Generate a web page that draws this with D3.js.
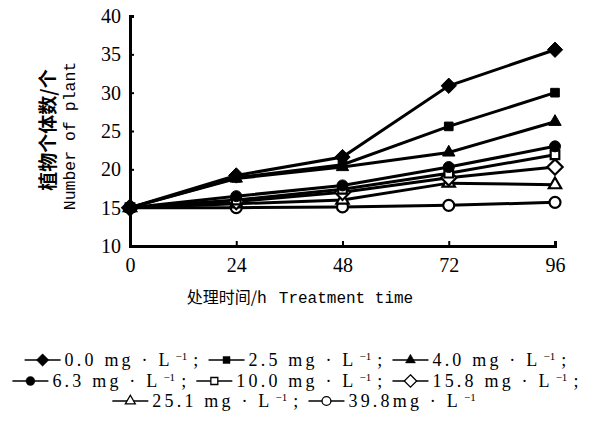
<!DOCTYPE html>
<html>
<head>
<meta charset="utf-8">
<script src="https://cdn.jsdelivr.net/npm/d3@7"></script>
<style>
  body { margin: 0; background: #fff; }
  svg { display: block; }
</style>
</head>
<body>
<script>
// time points (h)
var hours = [0, 24, 48, 72, 96];
var yTicks = [10, 15, 20, 25, 30, 35, 40];

// concentrations, mg/L
var concLabels = ["0.0", "2.5", "4.0", "6.3", "10.0", "15.8", "25.1", "39.8"];
var markers = ["diamond", "square", "triangle", "circle", "square", "diamond", "triangle", "circle"];
var filled = [true, true, true, true, false, false, false, false];

// number of plants
var c00 = [15, 19.2, 21.6, 30.9, 35.6];
var c25 = [15, 18.9, 20.6, 25.6, 30.0];
var c40 = [15, 18.8, 20.3, 22.2, 26.2];
var c63 = [15, 16.5, 17.9, 20.3, 23.0];
var c100 = [15, 16.0, 17.4, 19.5, 21.9];
var c158 = [15, 15.8, 17.0, 18.9, 20.3];
var c251 = [15, 15.5, 16.0, 18.2, 18.0];
var c398 = [15, 15.0, 15.1, 15.3, 15.7];
var series = [c00, c25, c40, c63, c100, c158, c251, c398];

var width = 593, height = 437;
var svg = d3.select("body").append("svg")
    .attr("width", width).attr("height", height);

var x = d3.scaleLinear().domain([0, 96]).range([130, 555]);
var y = d3.scaleLinear().domain([10, 40]).range([246, 16]);

function symbolFor(name) {
  if (name === "diamond") return d3.symbolDiamond2;
  if (name === "square") return d3.symbolSquare2;
  if (name === "triangle") return d3.symbolTriangle2;
  return d3.symbolCircle;
}
function symbolSize(name, scale) {
  var s = { diamond: 150, square: 95, triangle: 110, circle: 95 }[name];
  return s * scale;
}

// axes
var xAxis = svg.append("g")
    .attr("transform", "translate(0," + y(10) + ")")
    .call(d3.axisBottom(x).tickValues(hours).tickSize(-5).tickPadding(12));
var yAxis = svg.append("g")
    .attr("transform", "translate(" + x(0) + ",0)")
    .call(d3.axisLeft(y).tickValues(yTicks).tickSize(-4).tickPadding(9));

[xAxis, yAxis].forEach(function(a) {
  a.select(".domain").attr("stroke", "#000").attr("stroke-width", 3);
  a.selectAll(".tick line").attr("stroke", "#000").attr("stroke-width", 2);
  a.selectAll(".tick text")
    .attr("fill", "#000")
    .style("font-family", "'Liberation Serif', serif")
    .style("font-size", "20px");
});
xAxis.selectAll(".tick").filter(function(d) { return d === 0; }).select("line").remove();

// axis titles
svg.append("text")
    .attr("x", 300).attr("y", 303)
    .attr("text-anchor", "middle")
    .style("font-size", "16px")
    .html("<tspan style=\"font-family:'Noto Sans CJK SC'\">处理时间/h</tspan><tspan style=\"font-family:'Liberation Mono', monospace\" dx=\"12\">Treatment time</tspan>");

svg.append("text")
    .attr("transform", "translate(55,130) rotate(-90)")
    .attr("text-anchor", "middle")
    .style("font-family", "'Noto Sans CJK SC'")
    .style("font-size", "19px")
    .style("font-weight", "bold")
    .text("植物个体数/个");
svg.append("text")
    .attr("transform", "translate(75,136) rotate(-90)")
    .attr("text-anchor", "middle")
    .style("font-family", "'Liberation Mono', monospace")
    .style("font-size", "16.5px")
    .text("Number of plant");

// lines, drawn from bottom series up
var line = d3.line()
    .x(function(d, i) { return x(hours[i]); })
    .y(function(d) { return y(d); });

for (var k = series.length - 1; k >= 0; k--) {
  svg.append("path")
      .datum(series[k])
      .attr("d", line)
      .attr("fill", "none")
      .attr("stroke", "#000")
      .attr("stroke-width", 3);
}
for (var k = series.length - 1; k >= 0; k--) {
  svg.append("g").selectAll("path")
      .data(series[k])
      .enter().append("path")
      .attr("transform", function(d, i) { return "translate(" + x(hours[i]) + "," + y(d) + ")"; })
      .attr("d", d3.symbol().type(symbolFor(markers[k])).size(symbolSize(markers[k], 1)))
      .attr("fill", filled[k] ? "#000" : "#fff")
      .attr("stroke", "#000")
      .attr("stroke-width", filled[k] ? 1 : 2.2);
}

// legend
var legendRows = [[0, 1, 2], [3, 4, 5], [6, 7]];
var rowY = [366, 387, 407];
function legendText(g, tx, ty, str, size) {
  var t = g.append("text")
      .attr("x", tx).attr("y", ty)
      .style("font-family", "'Liberation Serif', serif")
      .style("font-size", size + "px")
      .style("letter-spacing", size > 15 ? "3.2px" : "0px")
      .attr("fill", "#000")
      .text(str);
  return t.node().getBBox().width;
}
legendRows.forEach(function(row, r) {
  var g = svg.append("g");
  var cx = 0;
  row.forEach(function(k, j) {
    g.append("line")
        .attr("x1", cx).attr("x2", cx + 36)
        .attr("y1", rowY[r] - 6).attr("y2", rowY[r] - 6)
        .attr("stroke", "#000").attr("stroke-width", 1.5);
    g.append("path")
        .attr("transform", "translate(" + (cx + 18) + "," + (rowY[r] - 6) + ")")
        .attr("d", d3.symbol().type(symbolFor(markers[k])).size(symbolSize(markers[k], 0.65)))
        .attr("fill", filled[k] ? "#000" : "#fff")
        .attr("stroke", "#000")
        .attr("stroke-width", filled[k] ? 0.5 : 1.3);
    cx += 40;
    var sep = (k === 7) ? "mg · L" : " mg · L";
    var last = (j === row.length - 1 && r === 2);
    cx += legendText(g, cx, rowY[r], concLabels[k] + sep, 18) + 3;
    cx += legendText(g, cx, rowY[r] - 6, "−1", 11) + 6;
    if (!last) cx += legendText(g, cx, rowY[r], ";", 18);
    cx += 7;
  });
  var w = cx - 7;
  g.attr("transform", "translate(" + (297 - w / 2) + ",0)");
});
</script>
</body>
</html>
